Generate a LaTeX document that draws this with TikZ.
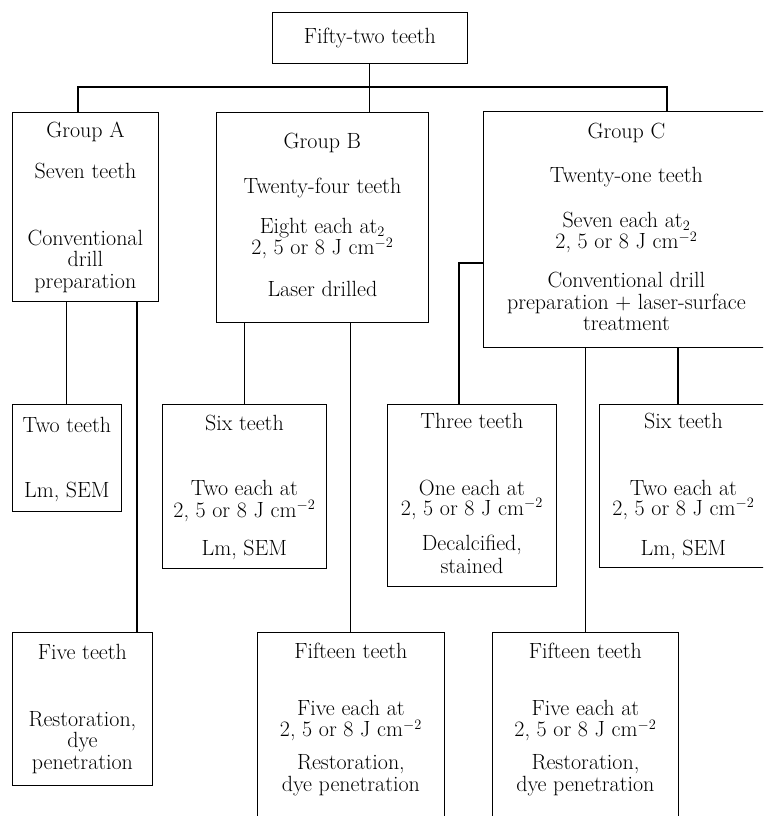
\documentclass[tikz,border=0pt]{standalone}
\usetikzlibrary{calc}
\tikzset{box/.style={draw,line width=0.8pt,inner sep=0pt,anchor=north west},
  link/.style={line width=1.1pt}}
% text of a box: width, height, lines (top aligned)
\newcommand{\boxtext}[3]{\parbox[c][#2pt][t]{#1pt}{\fontsize{22}{21.5}\selectfont\lineskiplimit=-100pt\centering #3}}

\begin{document}
\begin{tikzpicture}[x=1pt,y=-1pt]
\useasboundingbox (0,0) rectangle (763,816);
\clip (0,0) rectangle (763,816);
% top
\node[box] (total) at (272,12) {\boxtext{195}{51}{\rule{0pt}{31pt}Fifty-two teeth}};
% groups
\node[box] (grpA) at (12,112) {\boxtext{146}{189}{\rule{0pt}{25pt}Group A\\[19.5pt] Seven teeth\\[45.5pt] Conventional\\ drill\\ preparation}};
\node[box] (grpB) at (216,112) {\boxtext{212}{210}{\rule{0pt}{36pt}Group B\\[23.5pt] Twenty-four teeth\\[18.5pt] Eight each at$_2$\\ 2, 5 or 8 J cm$^{-2}$\\[20.5pt] Laser drilled}};
\node[box] (grpC) at (483,111) {\boxtext{286}{236}{\rule{0pt}{27pt}Group C\\[22.5pt] Twenty-one teeth\\[23.5pt] Seven each at$_2$\\ 2, 5 or 8 J cm$^{-2}$\\[17.5pt] Conventional drill\\ preparation + laser-surface\\ treatment}};
% second row
\node[box] (twoA) at (12,404) {\boxtext{109}{107}{\rule{0pt}{28pt}Two teeth\\[43.5pt] Lm, SEM}};
\node[box] (sixB) at (162,404) {\boxtext{164}{164}{\rule{0pt}{26pt}Six teeth\\[43.5pt] Two each at\\[0.5pt] 2, 5 or 8 J cm$^{-2}$\\[16.5pt] Lm, SEM}};
\node[box] (threeC) at (387,404) {\boxtext{169}{182}{\rule{0pt}{24pt}Three teeth\\[45.5pt] One each at\\[-1.5pt] 2, 5 or 8 J cm$^{-2}$\\[13.5pt] Decalcified,\\[1.5pt] stained}};
\node[box] (sixC) at (599,404) {\boxtext{168}{163}{\rule{0pt}{24pt}Six teeth\\[45.5pt] Two each at\\[-1.5pt] 2, 5 or 8 J cm$^{-2}$\\[18.5pt] Lm, SEM}};
% third row
\node[box] (fiveA) at (12,632) {\boxtext{140}{153}{\rule{0pt}{27pt}Five teeth\\[45.5pt] Restoration,\\ dye\\ penetration}};
\node[box] (fifteenB) at (257,632) {\boxtext{187}{200}{\rule{0pt}{26pt}Fifteen teeth\\[35.5pt] Five each at\\ 2, 5 or 8 J cm$^{-2}$\\[11.5pt] Restoration,\\ dye penetration}};
\node[box] (fifteenC) at (492,632) {\boxtext{186}{200}{\rule{0pt}{26pt}Fifteen teeth\\[35.5pt] Five each at\\ 2, 5 or 8 J cm$^{-2}$\\[11.5pt] Restoration,\\ dye penetration}};
% links
\coordinate (busL) at (78,87);
\coordinate (busR) at (667,87);
\draw[link] (total.south) -- (total.south |- grpB.north);
\draw[link] (busL |- grpA.north) -- (busL) -- (busR) -- (busR |- grpC.north);
\coordinate (dropA) at (137,0);
\draw[link] (twoA.north |- grpA.south) -- (twoA.north);
\draw[link] (dropA |- grpA.south) -- (dropA |- fiveA.north);
\draw[link] (sixB.north |- grpB.south) -- (sixB.north);
\draw[link] (fifteenB.north |- grpB.south) -- (fifteenB.north);
\coordinate (kneeC) at (459,263);
\coordinate (dropC) at (678,0);
\draw[link] (grpC.west |- kneeC) -- (kneeC) -- (kneeC |- threeC.north);
\draw[link] (fifteenC.north |- grpC.south) -- (fifteenC.north);
\draw[link] (dropC |- grpC.south) -- (dropC |- sixC.north);
\end{tikzpicture}
\end{document}
